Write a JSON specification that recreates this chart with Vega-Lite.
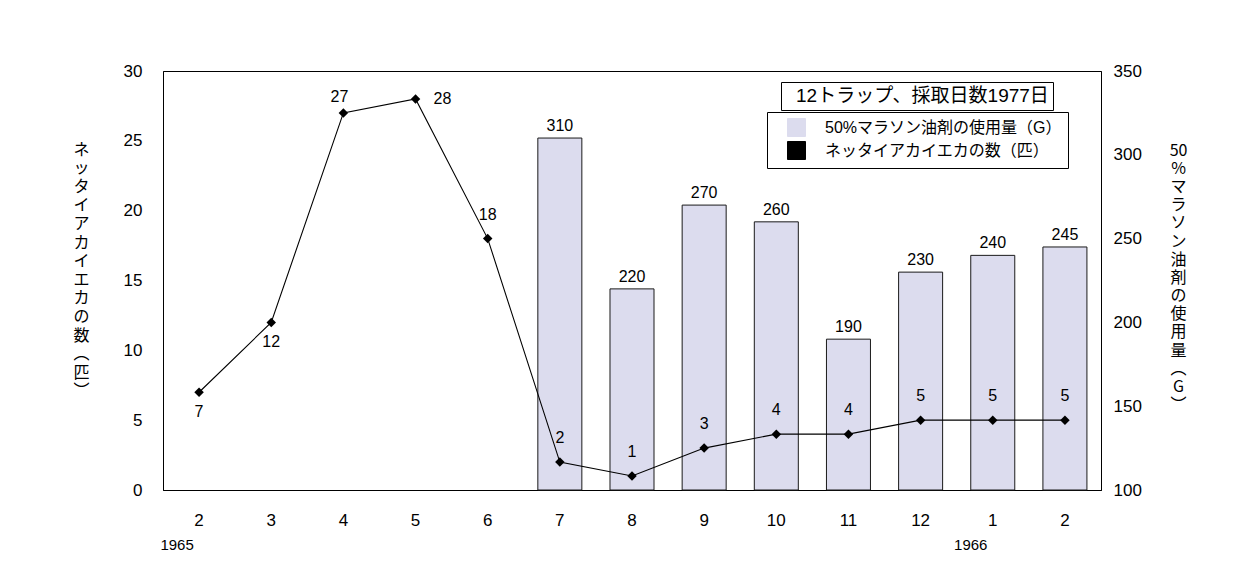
{
  "$schema": "https://vega.github.io/schema/vega-lite/v6.json",
  "width": 938,
  "height": 419,
  "padding": {"left": 72, "top": 62, "right": 57, "bottom": 28},
  "background": "white",
  "data": {
    "values": [
      {"period": "1965-02", "count": 7, "oil": null, "year": "1965"},
      {"period": "1965-03", "count": 12, "oil": null, "year": null},
      {"period": "1965-04", "count": 27, "oil": null, "year": null},
      {"period": "1965-05", "count": 28, "oil": null, "year": null},
      {"period": "1965-06", "count": 18, "oil": null, "year": null},
      {"period": "1965-07", "count": 2, "oil": 310, "year": null},
      {"period": "1965-08", "count": 1, "oil": 220, "year": null},
      {"period": "1965-09", "count": 3, "oil": 270, "year": null},
      {"period": "1965-10", "count": 4, "oil": 260, "year": null},
      {"period": "1965-11", "count": 4, "oil": 190, "year": null},
      {"period": "1965-12", "count": 5, "oil": 230, "year": null},
      {"period": "1966-01", "count": 5, "oil": 240, "year": "1966"},
      {"period": "1966-02", "count": 5, "oil": 245, "year": null}
    ]
  },
  "encoding": {
    "x": {
      "field": "period",
      "type": "ordinal",
      "scale": {"paddingInner": 0.39, "paddingOuter": 0.195},
      "axis": {
        "title": null,
        "labelExpr": "toNumber(slice(datum.value, 5))",
        "labelAngle": 0,
        "tickSize": 0,
        "labelPadding": 22,
        "labelOverlap": false
      }
    }
  },
  "layer": [
    {
      "encoding": {
        "y": {
          "field": "oil",
          "type": "quantitative",
          "scale": {"domain": [100, 350], "zero": false, "nice": false},
          "axis": {
            "orient": "right",
            "values": [100, 150, 200, 250, 300, 350],
            "tickSize": 0,
            "labelPadding": 12,
            "labelFlush": false,
            "labelOverlap": false,
            "title": ["50", "%", "マ", "ラ", "ソ", "ン", "油", "剤", "の", "使", "用", "量", "︵", "G", "︶"],
            "titleAngle": 0,
            "titleX": 77,
            "titleY": 79,
            "titleAlign": "center",
            "titleBaseline": "middle",
            "titleLineHeight": 18.2,
            "titleFontSize": 16,
            "titleFontWeight": "normal",
            "titleFont": "Noto Sans CJK JP"
          }
        }
      },
      "layer": [
        {
          "transform": [{"filter": "isValid(datum.oil)"}],
          "mark": {"type": "bar", "stroke": "#1a1a1a", "strokeWidth": 1},
          "encoding": {
            "y2": {"datum": 100},
            "color": {
              "datum": "50%マラソン油剤の使用量（G）",
              "type": "nominal",
              "scale": {
                "domain": ["50%マラソン油剤の使用量（G）", "ネッタイアカイエカの数（匹）"],
                "range": ["#dcdcee", "#000000"]
              },
              "legend": {
                "title": null,
                "orient": "none",
                "legendX": 604,
                "legendY": 41,
                "strokeColor": "#000",
                "fillColor": "#fff",
                "padding": 6,
                "rowPadding": 0,
                "symbolSize": 324,
                "symbolOffset": 14,
                "symbolStrokeColor": "#000",
                "symbolStrokeWidth": 1,
                "labelOffset": 19,
                "labelFontSize": 16,
                "labelFont": "Liberation Sans, Noto Sans CJK JP",
                "labelColor": "#000",
                "labelLimit": 400
              }
            }
          }
        },
        {
          "transform": [{"filter": "isValid(datum.oil)"}],
          "mark": {"type": "text", "dy": -7, "baseline": "alphabetic", "fontSize": 16, "font": "Liberation Sans", "color": "#000"},
          "encoding": {
            "text": {"field": "oil", "type": "quantitative"},
            "opacity": {
              "datum": "12トラップ、採取日数1977日",
              "type": "ordinal",
              "scale": {"range": [1, 1]},
              "legend": {
                "title": null,
                "orient": "none",
                "legendX": 618,
                "legendY": 11,
                "strokeColor": "#000",
                "fillColor": "#fff",
                "padding": 4,
                "symbolSize": 0,
                "symbolOpacity": 0,
                "symbolStrokeWidth": 0,
                "labelOffset": -8,
                "labelFontSize": 19,
                "labelFont": "Liberation Sans, Noto Sans CJK JP",
                "labelColor": "#000",
                "labelLimit": 400
              }
            }
          }
        }
      ]
    },
    {
      "encoding": {
        "y": {
          "field": "count",
          "type": "quantitative",
          "scale": {"domain": [0, 30], "nice": false},
          "axis": {
            "orient": "left",
            "values": [0, 5, 10, 15, 20, 25, 30],
            "tickSize": 0,
            "labelPadding": 21,
            "labelFlush": false,
            "labelOverlap": false,
            "title": ["ネ", "ッ", "タ", "イ", "ア", "カ", "イ", "エ", "カ", "の", "数", "︵", "匹", "︶"],
            "titleAngle": 0,
            "titleX": -82,
            "titleY": 78,
            "titleAlign": "center",
            "titleBaseline": "middle",
            "titleLineHeight": 18.6,
            "titleFontSize": 16,
            "titleFontWeight": "normal",
            "titleFont": "Noto Sans CJK JP"
          }
        }
      },
      "layer": [
        {
          "mark": {"type": "line", "strokeWidth": 1.1, "point": {"shape": "diamond", "size": 90, "filled": true}},
          "encoding": {
            "color": {"datum": "ネッタイアカイエカの数（匹）", "type": "nominal"}
          }
        },
        {
          "transform": [{"filter": "datum.period == '1965-02' || datum.period == '1965-03'"}],
          "mark": {"type": "text", "dy": 20, "fontSize": 16, "font": "Liberation Sans", "color": "#000"},
          "encoding": {"text": {"field": "count", "type": "quantitative"}}
        },
        {
          "transform": [{"filter": "datum.period == '1965-04'"}],
          "mark": {"type": "text", "dy": -16, "dx": -4, "fontSize": 16, "font": "Liberation Sans", "color": "#000"},
          "encoding": {"text": {"field": "count", "type": "quantitative"}}
        },
        {
          "transform": [{"filter": "datum.period == '1965-05'"}],
          "mark": {"type": "text", "dx": 18, "align": "left", "fontSize": 16, "font": "Liberation Sans", "color": "#000"},
          "encoding": {"text": {"field": "count", "type": "quantitative"}}
        },
        {
          "transform": [{"filter": "datum.period > '1965-05'"}],
          "mark": {"type": "text", "dy": -24, "fontSize": 16, "font": "Liberation Sans", "color": "#000"},
          "encoding": {"text": {"field": "count", "type": "quantitative"}}
        },
        {
          "transform": [{"filter": "isValid(datum.year)"}],
          "mark": {"type": "text", "dy": 55, "dx": -22, "fontSize": 15, "font": "Liberation Sans", "color": "#000"},
          "encoding": {
            "y": {"datum": 0, "type": "quantitative"},
            "text": {"field": "year", "type": "nominal"}
          }
        }
      ]
    }
  ],
  "resolve": {"scale": {"y": "independent"}, "axis": {"y": "independent"}},
  "config": {
    "view": {"stroke": "#000", "strokeWidth": 1},
    "axis": {
      "domainColor": "#000",
      "tickColor": "#000",
      "labelColor": "#000",
      "titleColor": "#000",
      "labelFont": "Liberation Sans",
      "labelFontSize": 17,
      "grid": false
    }
  }
}
